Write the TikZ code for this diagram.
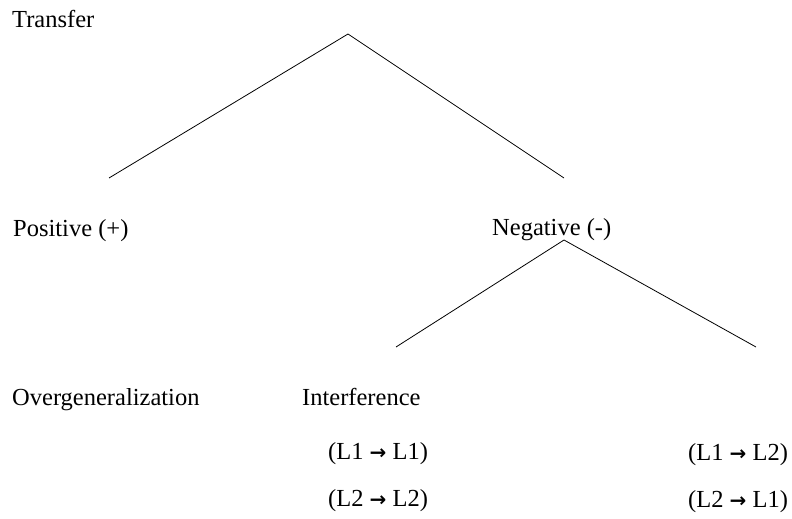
\documentclass[tikz,border=0pt]{standalone}
\usepackage{fontspec}
\setmainfont{Liberation Serif}
\newfontfamily\arrowfont{DejaVu Sans}
\newcommand{\rarr}{{\arrowfont\bfseries\fontsize{20}{24}\selectfont →}}
\tikzset{
  lbl/.style={anchor=base west, inner sep=0pt, font=\fontsize{24.5}{29}\selectfont},
  branch/.style={draw=black, line width=0.8pt}
}
\begin{document}
\begin{tikzpicture}[x=1pt, y=-1pt]
\useasboundingbox (0,0) rectangle (792,519);
\node[lbl] (transfer) at (12,28) {Transfer};
\node[lbl] (positive) at (13,236) {Positive (+)};
\node[lbl] (negative) at (492,235) {Negative (-)};
\node[lbl] (overgen) at (12,405) {Overgeneralization};
\node[lbl] (interf) at (302,405) {Interference};
\node[lbl] (l11) at (328,459) {(L1 \rarr{} L1)};
\node[lbl] (l22) at (328,506) {(L2 \rarr{} L2)};
\node[lbl] (l12) at (688,460) {(L1 \rarr{} L2)};
\node[lbl] (l21) at (688,507) {(L2 \rarr{} L1)};
\coordinate (top) at (348,34);
\coordinate (tl) at (109,178);
\coordinate (tr) at (564,178);
\coordinate (neg) at (564,240);
\coordinate (bl) at (396,347);
\coordinate (br) at (756,347);
\draw[branch] (tl) -- (top) -- (tr);
\draw[branch] (bl) -- (neg) -- (br);
\end{tikzpicture}
\end{document}
